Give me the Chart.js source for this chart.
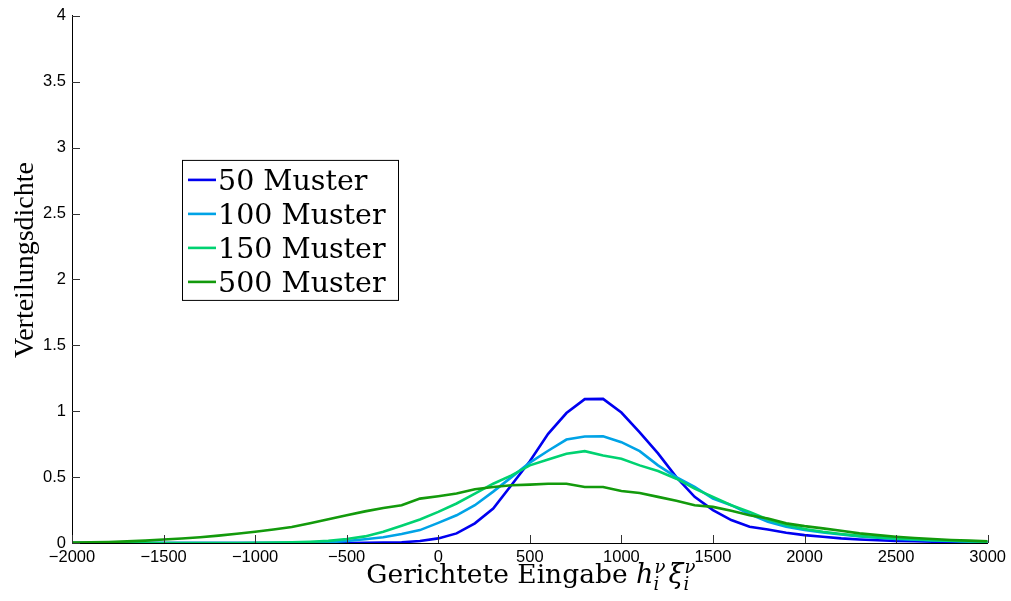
<!DOCTYPE html>
<html>
<head>
<meta charset="utf-8">
<script src="https://cdn.jsdelivr.net/npm/chart.js@4/dist/chart.umd.min.js"></script>
<style>
  html, body { margin: 0; padding: 0; background: #ffffff; }
  canvas { display: block; }
</style>
</head>
<body>
<canvas id="c" width="1011" height="601"></canvas>
<script>
// ---- data ----
const xValues = [-2000,-1900,-1800,-1700,-1600,-1500,-1400,-1300,-1200,-1100,
  -1000,-900,-800,-700,-600,-500,-400,-300,-200,-100,
  0,100,200,300,400,500,600,700,800,900,
  1000,1100,1200,1300,1400,1500,1600,1700,1800,1900,
  2000,2100,2200,2300,2400,2500,2600,2700,2800,2900,3000];

const seriesLabels = ["50 Muster", "100 Muster", "150 Muster", "500 Muster"];

const muster50 = [0,0,0,0,0,0,0,0,0,0,
  0,0,0,0,0,0,0.001,0.003,0.006,0.015,
  0.035,0.073,0.149,0.262,0.44,0.62,0.828,0.986,1.092,1.094,
  0.99,0.84,0.68,0.50,0.35,0.25,0.174,0.123,0.103,0.078,
  0.06,0.048,0.035,0.027,0.021,0.016,0.013,0.01,0.008,0.006,0.005];

const muster100 = [0,0,0,0,0,0,0,0,0,0,
  0,0,0,0.002,0.006,0.015,0.028,0.043,0.068,0.098,
  0.153,0.21,0.287,0.39,0.50,0.61,0.70,0.785,0.808,0.81,
  0.765,0.697,0.589,0.50,0.425,0.337,0.287,0.219,0.161,0.123,
  0.098,0.08,0.065,0.05,0.04,0.03,0.025,0.02,0.015,0.01,0.008];

const muster150 = [0,0,0,0,0,0,0,0,0,0,
  0.002,0.003,0.005,0.009,0.016,0.03,0.05,0.085,0.131,0.179,
  0.236,0.30,0.375,0.45,0.513,0.589,0.634,0.677,0.697,0.664,
  0.639,0.589,0.546,0.488,0.413,0.35,0.287,0.236,0.179,0.136,
  0.106,0.085,0.068,0.054,0.043,0.035,0.028,0.022,0.017,0.013,0.01];

const muster500 = [0.003,0.005,0.008,0.012,0.018,0.026,0.034,0.044,0.056,0.07,
  0.086,0.103,0.122,0.15,0.18,0.21,0.24,0.266,0.287,0.337,
  0.355,0.375,0.408,0.425,0.438,0.443,0.45,0.45,0.425,0.425,
  0.395,0.38,0.35,0.32,0.287,0.274,0.244,0.211,0.186,0.149,
  0.128,0.111,0.093,0.073,0.06,0.048,0.038,0.03,0.023,0.018,0.013];

const xTicksStep = 500;
const yTicksStep = 0.5;

const colors = ["#0000f0", "#00a3e6", "#00d271", "#139a0c"];
const allSeries = [muster50, muster100, muster150, muster500];

function toPoints(arr) { return arr.map((y, i) => ({ x: xValues[i], y: y })); }

const datasets = allSeries.map((arr, k) => ({
  label: seriesLabels[k],
  data: toPoints(arr),
  borderColor: colors[k],
  backgroundColor: colors[k],
  borderWidth: 2.6,
  pointRadius: 0,
  tension: 0,
  fill: false,
  order: 4 - k
}));

// inward tick marks
const inwardTicks = {
  id: 'inwardTicks',
  afterDatasetsDraw(chart) {
    const ctx = chart.ctx;
    const xs = chart.scales.x, ys = chart.scales.y;
    const a = chart.chartArea;
    ctx.save();
    ctx.strokeStyle = '#333333';
    ctx.lineWidth = 1;
    xs.ticks.forEach(t => {
      const px = Math.round(xs.getPixelForValue(t.value)) + 0.5;
      ctx.beginPath(); ctx.moveTo(px, a.bottom); ctx.lineTo(px, a.bottom - 8); ctx.stroke();
    });
    ys.ticks.forEach(t => {
      const py = Math.round(ys.getPixelForValue(t.value)) + 0.5;
      ctx.beginPath(); ctx.moveTo(a.left, py); ctx.lineTo(a.left + 8, py); ctx.stroke();
    });
    ctx.restore();
  }
};

// legend box inside the plot
const boxLegend = {
  id: 'boxLegend',
  afterDraw(chart) {
    const ctx = chart.ctx;
    const a = chart.chartArea;
    const bx = a.left + 110, by = a.top + 144, bw = 216, bh = 140;
    ctx.save();
    ctx.fillStyle = '#ffffff';
    ctx.fillRect(bx, by, bw, bh);
    ctx.strokeStyle = '#000000';
    ctx.lineWidth = 1;
    ctx.strokeRect(bx + 0.5, by + 0.5, bw, bh);
    ctx.font = '28.5px "DejaVu Serif"';
    ctx.textAlign = 'left';
    ctx.textBaseline = 'alphabetic';
    chart.data.datasets.forEach((ds, k) => {
      const cy = by + 20 + k * 34;
      ctx.strokeStyle = ds.borderColor;
      ctx.lineWidth = 2.6;
      ctx.beginPath(); ctx.moveTo(bx + 6, cy); ctx.lineTo(bx + 34, cy); ctx.stroke();
      ctx.fillStyle = '#000000';
      ctx.fillText(ds.label, bx + 36, cy + 10);
    });
    ctx.restore();
  }
};

// axis titles (x title has sub/superscripts)
const axisTitles = {
  id: 'axisTitles',
  afterDraw(chart) {
    const ctx = chart.ctx;
    const a = chart.chartArea;
    ctx.save();
    ctx.fillStyle = '#000000';
    ctx.textBaseline = 'alphabetic';
    ctx.textAlign = 'left';
    const big = '26.5px "DejaVu Serif"';
    const bigI = 'italic 27px "DejaVu Serif"';
    const small = 'italic 18px "DejaVu Serif"';
    const parts = [
      { t: 'Gerichtete Eingabe ', f: big, dy: 0 },
      { t: 'h', f: bigI, dy: 0 },
      { t: 'ν', f: small, dy: -10, stack: true },
      { t: 'i', f: small, dy: 7 },
      { t: ' ', f: '10px "DejaVu Serif"', dy: 0 },
      { t: 'ξ', f: bigI, dy: 0 },
      { t: 'ν', f: small, dy: -10, stack: true },
      { t: 'i', f: small, dy: 7 }
    ];
    let total = 0;
    const widths = parts.map(p => { ctx.font = p.f; return ctx.measureText(p.t).width; });
    for (let i = 0; i < parts.length; i++) {
      if (parts[i].stack) { total += Math.max(widths[i], widths[i + 1]); i++; }
      else total += widths[i];
    }
    let x = (a.left + a.right) / 2 - total / 2;
    const base = 583;
    for (let i = 0; i < parts.length; i++) {
      const p = parts[i];
      if (p.stack) {
        const q = parts[i + 1];
        ctx.font = p.f; ctx.fillText(p.t, x + 1, base + p.dy);
        ctx.font = q.f; ctx.fillText(q.t, x, base + q.dy);
        x += Math.max(widths[i], widths[i + 1]) + 1;
        i++;
      } else {
        ctx.font = p.f; ctx.fillText(p.t, x, base + p.dy);
        x += widths[i];
      }
    }
    // y title
    ctx.translate(33, 260);
    ctx.rotate(-Math.PI / 2);
    ctx.textAlign = 'center';
    ctx.font = '28px "Liberation Serif"';
    ctx.fillText('Verteilungsdichte', 0, 0);
    ctx.restore();
  }
};

const tickFont = { family: '"Liberation Sans", Arial, sans-serif', size: 16.5 };

new Chart(document.getElementById('c'), {
  type: 'line',
  data: { datasets: datasets },
  options: {
    responsive: false,
    animation: false,
    devicePixelRatio: 1,
    layout: { padding: { top: 13, right: 23, left: 0, bottom: 0 } },
    plugins: { legend: { display: false }, tooltip: { enabled: false }, title: { display: false } },
    scales: {
      x: {
        type: 'linear',
        min: -2000, max: 3000,
        grid: { display: false, drawTicks: false },
        border: { display: true, color: '#000000', width: 1 },
        ticks: {
          stepSize: xTicksStep,
          color: '#000000',
          font: tickFont,
          maxRotation: 0,
          padding: 5,
          callback: v => String(v).replace('-', '\u2212')
        },
        afterFit: s => { s.height = 58; }
      },
      y: {
        type: 'linear',
        min: 0, max: 4,
        grid: { display: false, drawTicks: false },
        border: { display: true, color: '#000000', width: 1 },
        ticks: {
          stepSize: yTicksStep,
          color: '#000000',
          font: tickFont,
          padding: 6,
          callback: v => String(Math.round(v * 10) / 10)
        },
        afterFit: s => { s.width = 72; }
      }
    }
  },
  plugins: [inwardTicks, boxLegend, axisTitles]
});
</script>
</body>
</html>
